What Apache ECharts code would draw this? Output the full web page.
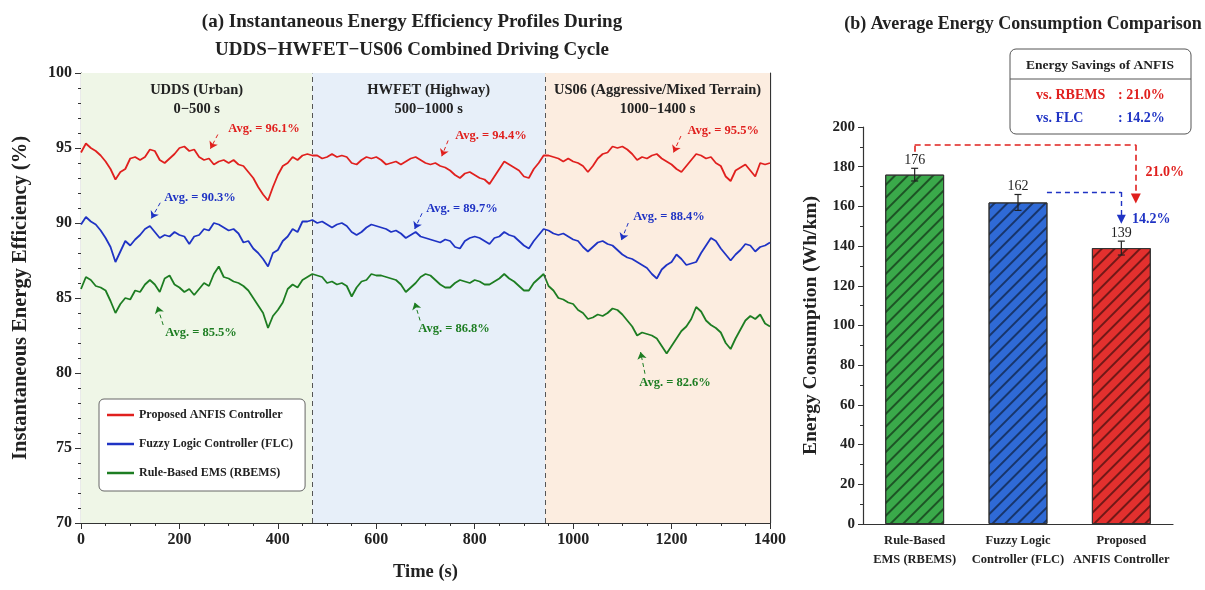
<!DOCTYPE html>
<html>
<head>
<meta charset="utf-8">
<title>Energy efficiency and consumption</title>
<script src="https://cdn.jsdelivr.net/npm/echarts@6/dist/echarts.min.js"></script>
<style>
  html, body { margin: 0; padding: 0; background: #fff; }
  #main { width: 1205px; height: 590px; }
</style>
</head>
<body>
<div id="main"></div>
<script>
// ---- panel (a): instantaneous efficiency, sampled every 10 s ----
const timeSec = [
  0,10,20,30,40,50,60,70,80,90,100,110,120,130,140,150,160,170,180,190,
  200,210,220,230,240,250,260,270,280,290,300,310,320,330,340,350,360,370,380,390,
  400,410,420,430,440,450,460,470,480,490,500,510,520,530,540,550,560,570,580,590,
  600,610,620,630,640,650,660,670,680,690,700,710,720,730,740,750,760,770,780,790,
  800,810,820,830,840,850,860,870,880,890,900,910,920,930,940,950,960,970,980,990,
  1000,1010,1020,1030,1040,1050,1060,1070,1080,1090,1100,1110,1120,1130,1140,1150,1160,1170,1180,1190,
  1200,1210,1220,1230,1240,1250,1260,1270,1280,1290,1300,1310,1320,1330,1340,1350,1360,1370,1380,1390,1400
];
const anfisEff = [
  94.7,95.3,95.0,94.8,94.5,94.1,93.6,92.9,93.4,93.6,94.3,94.4,94.2,94.4,94.9,94.8,94.2,94.0,94.3,94.6,
  95.0,95.1,94.8,94.9,94.4,94.2,94.3,93.9,94.1,94.2,94.0,94.2,93.9,93.8,93.4,93.0,92.4,91.9,91.5,92.4,
  93.2,93.8,94.0,94.4,94.2,94.5,94.6,94.5,
  94.5,94.3,94.4,94.6,94.4,94.5,94.4,94.0,93.9,94.2,94.4,94.3,94.4,94.2,93.9,94.0,94.1,93.9,94.1,94.3,
  94.4,94.2,94.0,93.9,94.0,93.8,93.7,93.5,93.2,93.0,93.3,93.4,93.2,93.0,92.9,92.6,93.1,93.6,94.1,93.9,
  93.7,93.5,93.1,93.0,93.6,94.0,94.5,
  94.5,94.4,94.3,94.1,94.3,94.1,94.0,93.8,93.4,93.8,94.3,94.6,94.7,95.1,95.0,95.1,94.9,94.6,94.2,94.4,
  94.3,94.5,94.6,94.3,94.1,93.9,93.6,93.4,93.8,94.2,94.6,94.5,94.3,94.4,94.0,93.8,93.1,92.8,93.5,93.7,
  93.9,93.5,93.1,94.0,93.9,94.0
];
const flcEff = [
  89.9,90.4,90.1,89.9,89.5,89.0,88.4,87.4,88.1,88.8,88.5,88.9,89.2,89.6,89.8,89.4,89.0,89.2,89.1,89.4,
  89.2,89.1,88.6,89.1,89.2,89.6,89.5,90.0,89.9,89.7,89.5,89.6,89.3,88.7,88.8,88.3,88.0,87.6,87.1,88.0,
  88.2,88.8,89.1,89.6,89.4,90.1,90.1,90.2,
  90.0,90.1,89.9,89.7,89.9,90.0,89.8,89.4,89.2,89.4,89.7,89.9,89.8,89.7,89.6,89.4,89.5,89.3,89.0,89.2,
  89.4,89.1,89.0,88.9,88.8,88.7,88.9,88.8,88.4,88.3,88.8,89.0,89.1,89.0,88.8,88.6,89.0,89.1,89.4,89.2,
  89.1,88.8,88.5,88.3,88.8,89.2,89.6,
  89.5,89.3,89.2,89.3,89.1,88.9,88.8,88.4,88.1,88.4,88.7,88.8,88.6,88.5,88.2,87.9,87.7,87.6,87.4,87.2,
  87.0,86.6,86.3,86.9,87.2,87.4,87.9,87.6,87.2,87.3,87.4,88.0,88.5,89.0,88.8,88.3,87.9,87.5,87.9,88.2,
  88.6,88.5,88.1,88.4,88.5,88.7
];
const rbemsEff = [
  85.6,86.4,86.2,85.8,85.7,85.5,84.8,84.0,84.6,85.0,84.9,85.5,85.4,85.9,86.2,85.9,85.4,86.3,86.5,85.9,
  85.7,85.4,85.6,85.2,85.6,86.0,85.8,86.6,87.1,86.4,86.3,86.1,86.0,85.8,85.5,85.0,84.5,84.0,83.0,83.8,
  84.2,84.7,85.6,85.9,85.7,86.2,86.4,86.6,
  86.5,86.4,86.0,86.1,85.9,86.0,85.8,85.1,85.7,86.1,86.2,86.6,86.5,86.5,86.4,86.3,86.2,85.9,85.4,85.7,
  86.0,86.4,86.6,86.5,86.2,85.9,85.7,85.7,86.0,86.2,86.1,86.0,86.2,86.1,85.9,85.9,86.1,86.3,86.6,86.3,
  86.1,85.8,85.5,85.5,86.0,86.3,86.6,
  85.8,85.5,85.0,84.9,84.7,84.6,84.2,84.0,83.6,83.7,83.9,83.8,84.0,84.3,84.2,83.9,83.5,83.1,82.5,82.7,
  82.6,82.5,82.3,81.8,81.3,81.8,82.3,82.8,83.1,83.6,84.4,84.1,83.5,83.2,83.0,82.7,82.0,81.6,82.3,82.9,
  83.5,83.8,83.6,83.9,83.3,83.1
];

const phaseNames = ['UDDS (Urban)', 'HWFET (Highway)', 'US06 (Aggressive/Mixed Terrain)'];
const phaseRanges = ['0−500 s', '500−1000 s', '1000−1400 s'];
const phaseBounds = [0, 470, 943, 1400];

const anfisPhaseAvg = [96.1, 94.4, 95.5];
const flcPhaseAvg = [90.3, 89.7, 88.4];
const rbemsPhaseAvg = [85.5, 86.8, 82.6];

const controllerNames = ['Proposed ANFIS Controller', 'Fuzzy Logic Controller (FLC)', 'Rule-Based EMS (RBEMS)'];
const overallNames = ['Proposed ANFIS', 'FLC', 'RBEMS'];
const overallAvg = [95.3, 89.5, 84.9];

// ---- panel (b): average consumption ----
const barCategories = ['Rule-Based\nEMS (RBEMS)', 'Fuzzy Logic\nController (FLC)', 'Proposed\nANFIS Controller'];
const consumption = [176, 162, 139];
const consumptionErr = [3.2, 4.0, 3.5];
const savingNames = ['vs. RBEMS', 'vs. FLC'];
const savingPct = [21.0, 14.2];

// ---- look ----
const SERIF = '"Liberation Serif", "Times New Roman", serif';
const RED = '#e0201e', BLUE = '#1f33c4', GREEN = '#1d7d22';
const phaseColors = ['#eff6e7', '#e7eff9', '#fcede0'];
const barColors = ['#3aa94a', '#2f6ad6', '#e3302e'];

// note placement in axis units: [labelT, labelV, tailT, tailV, headT, headV]
const anfisNotes = [[372, 96.3, 278, 95.9, 263, 94.95], [833, 95.8, 746, 95.5, 733, 94.45], [1305, 96.15, 1219, 95.8, 1204, 94.7]];
const flcNotes = [[242, 91.65, 161, 91.35, 143, 90.3], [774, 90.95, 693, 90.65, 678, 89.6], [1195, 90.4, 1112, 90.0, 1098, 88.85]];
const rbemsNotes = [[244, 82.65, 167, 83.2, 155, 84.45], [758, 82.95, 689, 83.5, 678, 84.7], [1207, 79.35, 1146, 79.95, 1137, 81.4]];

function effSeries(name, color, values, avgs, notes) {
  return {
    name: name, type: 'line', xAxisIndex: 0, yAxisIndex: 0, z: 3,
    data: timeSec.map((t, i) => [t, values[i]]),
    symbol: 'none',
    lineStyle: { color: color, width: 1.8 },
    itemStyle: { color: color },
    markPoint: {
      silent: true, symbol: 'circle', symbolSize: 1,
      itemStyle: { color: 'rgba(0,0,0,0)' },
      label: { show: true, position: 'inside', formatter: '{b}', color: color,
               fontFamily: SERIF, fontWeight: 'bold', fontSize: 12.5 },
      data: notes.map((n, k) => ({ name: 'Avg. = ' + avgs[k].toFixed(1) + '%', coord: [n[0], n[1]] }))
    },
    markLine: {
      silent: true, symbol: ['none', 'arrow'], symbolSize: 7, animation: false,
      lineStyle: { color: color, type: [4, 3], width: 1 },
      label: { show: false },
      data: notes.map(n => [{ coord: [n[2], n[3]] }, { coord: [n[4], n[5]] }])
    }
  };
}

const axisFont = { fontFamily: SERIF, fontWeight: 'bold', color: '#222' };
const plain = v => String(v);

const chart = echarts.init(document.getElementById('main'));
chart.setOption({
  animation: false,
  backgroundColor: '#fff',
  title: [
    { text: '(a) Instantaneous Energy Efficiency Profiles During\nUDDS−HWFET−US06 Combined Driving Cycle',
      left: 407, top: 3, textAlign: 'center',
      textStyle: { fontFamily: SERIF, fontWeight: 'bold', fontSize: 19, lineHeight: 28, color: '#222' } },
    { text: '(b) Average Energy Consumption Comparison',
      left: 1018, top: 10, textAlign: 'center',
      textStyle: { fontFamily: SERIF, fontWeight: 'bold', fontSize: 18, color: '#222' } }
  ],
  legend: {
    data: controllerNames, orient: 'vertical', left: 99, top: 399,
    icon: 'rect', padding: [9, 12, 11, 8], itemGap: 15, itemWidth: 27, itemHeight: 2.5,
    borderColor: '#666', borderWidth: 1, borderRadius: 5, backgroundColor: '#fff',
    textStyle: { fontFamily: SERIF, fontWeight: 'bold', fontSize: 12, color: '#222', lineHeight: 14 }
  },
  grid: [
    { left: 81, right: 435, top: 73, bottom: 67 },
    { left: 863, right: 32, top: 127, bottom: 66 }
  ],
  xAxis: [
    { type: 'value', gridIndex: 0, min: 0, max: 1400, interval: 200,
      name: 'Time (s)', nameLocation: 'middle', nameGap: 40,
      nameTextStyle: Object.assign({ fontSize: 18.5 }, axisFont),
      axisLine: { onZero: false, lineStyle: { color: '#333', width: 1.2 } },
      axisTick: { length: 6, lineStyle: { color: '#333' } },
      minorTick: { show: true, splitNumber: 4, length: 3, lineStyle: { color: '#333' } },
      axisLabel: Object.assign({ fontSize: 16, margin: 9, formatter: plain }, axisFont),
      splitLine: { show: false } },
    { type: 'value', gridIndex: 0, min: 0, max: 1400, position: 'top',
      axisLine: { show: true, onZero: false, lineStyle: { color: '#333', width: 1.2 } },
      axisTick: { show: false }, axisLabel: { show: false }, splitLine: { show: false } },
    { type: 'category', gridIndex: 1, data: barCategories,
      axisLine: { onZero: false, lineStyle: { color: '#333', width: 1.2 } },
      axisTick: { alignWithLabel: true, length: 5, lineStyle: { color: '#333' } },
      axisLabel: Object.assign({ fontSize: 12.5, lineHeight: 19, margin: 7, interval: 0 }, axisFont) },
    { type: 'value', gridIndex: 1, min: -0.5, max: 2.5, show: false }
  ],
  yAxis: [
    { type: 'value', gridIndex: 0, min: 70, max: 100, interval: 5,
      name: 'Instantaneous Energy Efficiency (%)', nameLocation: 'middle', nameGap: 50,
      nameTextStyle: Object.assign({ fontSize: 20.5 }, axisFont),
      axisLine: { show: true, onZero: false, lineStyle: { color: '#333', width: 1.2 } },
      axisTick: { show: true, length: 6, lineStyle: { color: '#333' } },
      minorTick: { show: true, splitNumber: 5, length: 3, lineStyle: { color: '#333' } },
      axisLabel: Object.assign({ fontSize: 16, margin: 9 }, axisFont),
      splitLine: { show: false } },
    { type: 'value', gridIndex: 0, min: 70, max: 100, position: 'right',
      axisLine: { show: true, onZero: false, lineStyle: { color: '#333', width: 1.2 } },
      axisTick: { show: false }, axisLabel: { show: false }, splitLine: { show: false } },
    { type: 'value', gridIndex: 1, min: 0, max: 200, interval: 20,
      name: 'Energy Consumption (Wh/km)', nameLocation: 'middle', nameGap: 42,
      nameTextStyle: Object.assign({ fontSize: 19.5 }, axisFont),
      axisLine: { show: true, onZero: false, lineStyle: { color: '#333', width: 1.2 } },
      axisTick: { show: true, length: 5, lineStyle: { color: '#333' } },
      minorTick: { show: true, splitNumber: 2, length: 3, lineStyle: { color: '#333' } },
      axisLabel: Object.assign({ fontSize: 15, margin: 8 }, axisFont),
      splitLine: { show: false } }
  ],
  series: [
    // phase backgrounds + boundaries
    { type: 'line', xAxisIndex: 0, yAxisIndex: 0, z: 1, data: [], silent: true,
      markArea: {
        silent: true,
        label: { position: 'insideTop', distance: 8, fontFamily: SERIF, fontWeight: 'bold',
                 fontSize: 14.5, lineHeight: 19, color: '#222' },
        data: phaseNames.map((nm, k) => [
          { xAxis: phaseBounds[k], name: nm + '\n' + phaseRanges[k], itemStyle: { color: phaseColors[k] } },
          { xAxis: phaseBounds[k + 1] }
        ])
      },
      markLine: {
        silent: true, symbol: 'none', label: { show: false }, animation: false,
        lineStyle: { color: '#555', type: [5, 4], width: 1 },
        data: [{ xAxis: phaseBounds[1] }, { xAxis: phaseBounds[2] }]
      }
    },
    effSeries(controllerNames[0], RED, anfisEff, anfisPhaseAvg, anfisNotes),
    effSeries(controllerNames[1], BLUE, flcEff, flcPhaseAvg, flcNotes),
    effSeries(controllerNames[2], GREEN, rbemsEff, rbemsPhaseAvg, rbemsNotes),

    // panel b bars
    { type: 'bar', xAxisIndex: 2, yAxisIndex: 2, barWidth: '57%', z: 2,
      data: consumption.map((v, i) => ({ value: v, itemStyle: { color: barColors[i] } })),
      itemStyle: {
        borderColor: '#333', borderWidth: 1,
        decal: { symbol: 'rect', symbolSize: 1, color: 'rgba(0,0,0,0.5)',
                 dashArrayX: [1, 0], dashArrayY: [1.1, 6.2], rotation: -Math.PI / 4 }
      }
    },
    // error bars + value labels
    { type: 'custom', xAxisIndex: 2, yAxisIndex: 2, z: 5, silent: true,
      data: consumption.map((v, i) => [i, v - consumptionErr[i], v + consumptionErr[i], v]),
      renderItem: function (params, api) {
        const lo = api.coord([api.value(0), api.value(1)]);
        const hi = api.coord([api.value(0), api.value(2)]);
        const cap = 3.5;
        const st = { stroke: '#222', lineWidth: 1.2 };
        return { type: 'group', children: [
          { type: 'line', shape: { x1: hi[0], y1: hi[1], x2: lo[0], y2: lo[1] }, style: st },
          { type: 'line', shape: { x1: hi[0] - cap, y1: hi[1], x2: hi[0] + cap, y2: hi[1] }, style: st },
          { type: 'line', shape: { x1: lo[0] - cap, y1: lo[1], x2: lo[0] + cap, y2: lo[1] }, style: st },
          { type: 'text', style: { text: String(api.value(3)), x: hi[0], y: hi[1] - 1,
              align: 'center', verticalAlign: 'bottom', fill: '#222',
              fontFamily: SERIF, fontSize: 14 } }
        ] };
      }
    },
    // saving connectors
    { type: 'line', xAxisIndex: 3, yAxisIndex: 2, z: 6, data: [], silent: true,
      markLine: {
        silent: true, symbol: ['none', 'none'], symbolSize: 10, animation: false,
        lineStyle: { color: RED, type: [6, 4], width: 1.6 }, label: { show: false },
        data: [
          [{ coord: [0, 187.5] }, { coord: [0, 191] }],
          [{ coord: [0, 191] }, { coord: [2.14, 191] }],
          [{ coord: [2.14, 191] }, { coord: [2.14, 164], symbol: 'triangle' }]
        ]
      },
      markPoint: {
        silent: true, symbol: 'circle', symbolSize: 1, itemStyle: { color: 'rgba(0,0,0,0)' },
        label: { show: true, position: 'inside', formatter: '{b}', color: RED,
                 fontFamily: SERIF, fontWeight: 'bold', fontSize: 14 },
        data: [{ name: savingPct[0].toFixed(1) + '%', coord: [2.42, 177] }]
      }
    },
    { type: 'line', xAxisIndex: 3, yAxisIndex: 2, z: 6, data: [], silent: true,
      markLine: {
        silent: true, symbol: ['none', 'none'], symbolSize: 9, animation: false,
        lineStyle: { color: BLUE, type: [5, 4], width: 1.4 }, label: { show: false },
        data: [
          [{ coord: [1.28, 167.3] }, { coord: [2.0, 167.3] }],
          [{ coord: [2.0, 167.3] }, { coord: [2.0, 153.5], symbol: 'triangle' }]
        ]
      },
      markPoint: {
        silent: true, symbol: 'circle', symbolSize: 1, itemStyle: { color: 'rgba(0,0,0,0)' },
        label: { show: true, position: 'inside', formatter: '{b}', color: BLUE,
                 fontFamily: SERIF, fontWeight: 'bold', fontSize: 14 },
        data: [{ name: savingPct[1].toFixed(1) + '%', coord: [2.29, 153.6] }]
      }
    }
  ],
  graphic: [
    { type: 'group', x: 383, y: 418, z: 10, children: [
      { type: 'rect', shape: { x: 0, y: 0, width: 194, height: 95, r: 6 },
        style: { fill: '#fff', stroke: '#555', lineWidth: 1 } },
      { type: 'text', x: 97, y: 15, style: { text: 'Overall Average Efficiency', align: 'center',
          verticalAlign: 'middle', fontFamily: SERIF, fontWeight: 'bold', fontSize: 12.5, fill: '#222' } },
      { type: 'line', shape: { x1: 0, y1: 27, x2: 177, y2: 27 }, style: { stroke: '#555', lineWidth: 1 } }
    ].concat(overallNames.flatMap((nm, i) => {
      const col = [RED, BLUE, GREEN][i];
      const y = 41 + i * 19.5;
      const f = { fontFamily: SERIF, fontWeight: 'bold', fontSize: 13.5, fill: col, verticalAlign: 'middle' };
      return [
        { type: 'text', x: 12, y: y, style: Object.assign({ text: nm, align: 'left' }, f) },
        { type: 'text', x: 128, y: y, style: Object.assign({ text: '=', align: 'center' }, f) },
        { type: 'text', x: 183, y: y, style: Object.assign({ text: overallAvg[i].toFixed(1) + '%', align: 'right' }, f) }
      ];
    })) },
    { type: 'group', x: 1010, y: 49, z: 10, children: [
      { type: 'rect', shape: { x: 0, y: 0, width: 181, height: 85, r: 6 },
        style: { fill: '#fff', stroke: '#555', lineWidth: 1 } },
      { type: 'text', x: 90, y: 17, style: { text: 'Energy Savings of ANFIS', align: 'center',
          verticalAlign: 'middle', fontFamily: SERIF, fontWeight: 'bold', fontSize: 13.5, fill: '#222' } },
      { type: 'line', shape: { x1: 0, y1: 30, x2: 181, y2: 30 }, style: { stroke: '#555', lineWidth: 1 } }
    ].concat(savingNames.flatMap((nm, i) => {
      const col = [RED, BLUE][i];
      const y = 46 + i * 23;
      const f = { fontFamily: SERIF, fontWeight: 'bold', fontSize: 14, fill: col, verticalAlign: 'middle' };
      return [
        { type: 'text', x: 26, y: y, style: Object.assign({ text: nm, align: 'left' }, f) },
        { type: 'text', x: 108, y: y, style: Object.assign({ text: ': ' + savingPct[i].toFixed(1) + '%', align: 'left' }, f) }
      ];
    })) }
  ]
});
</script>
</body>
</html>
